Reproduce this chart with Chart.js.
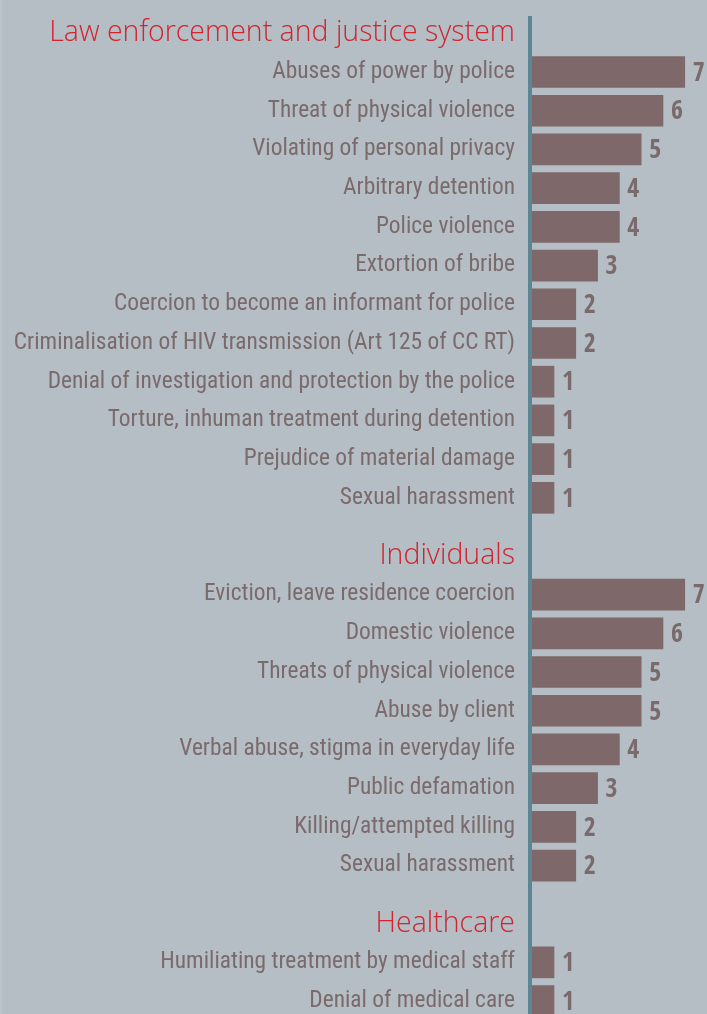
<!DOCTYPE html>
<html>
<head>
<meta charset="utf-8">
<script src="https://cdn.jsdelivr.net/npm/chart.js@4"></script>
<style>
  html, body { margin: 0; padding: 0; background: #b4bec4; }
  #wrap { width: 707px; height: 1014px; position: relative; }
  #edge { position: absolute; left: 0; top: 0; width: 2px; height: 1014px; background: #bcc5ca; }
</style>
</head>
<body>
<div id="wrap"><div id="edge"></div><canvas id="chart"></canvas></div>
<script>
const groupTitles = ['Law enforcement and justice system', 'Individuals', 'Healthcare'];

const lawLabels = [
	'Abuses of power by police',
	'Threat of physical violence',
	'Violating of personal privacy',
	'Arbitrary detention',
	'Police violence',
	'Extortion of bribe',
	'Coercion to become an informant for police',
	'Criminalisation of HIV transmission (Art 125 of CC RT)',
	'Denial of investigation and protection by the police',
	'Torture, inhuman treatment during detention',
	'Prejudice of material damage',
	'Sexual harassment',
];
const lawValues = [7, 6, 5, 4, 4, 3, 2, 2, 1, 1, 1, 1];

const individualLabels = [
	'Eviction, leave residence coercion',
	'Domestic violence',
	'Threats of physical violence',
	'Abuse by client',
	'Verbal abuse, stigma in everyday life',
	'Public defamation',
	'Killing/attempted killing',
	'Sexual harassment',
];
const individualValues = [7, 6, 5, 5, 4, 3, 2, 2];

const healthLabels = ['Humiliating treatment by medical staff', 'Denial of medical care'];
const healthValues = [1, 1];

const groups = [
	{ labels: lawLabels, values: lawValues },
	{ labels: individualLabels, values: individualValues },
	{ labels: healthLabels, values: healthValues },
];

// rows along the y axis: a header row per group, then its items
const rows = [];
let pos = 0;
groups.forEach((g, gi) => {
	if (gi > 0) pos += 1.5;
	rows.push({ pos, text: groupTitles[gi], header: true });
	g.labels.forEach((label, i) => {
		pos += 1;
		rows.push({ pos, text: label, value: g.values[i], header: false });
	});
});
const barRows = rows.filter((r) => !r.header);

const LABEL_FONT = "'Roboto Condensed', 'DejaVu Sans Condensed', sans-serif";

const valueLabels = {
	id: 'valueLabels',
	afterDatasetsDraw(chart) {
		const { ctx } = chart;
		const meta = chart.getDatasetMeta(0);
		ctx.save();
		ctx.font = "bold 26px 'Open Sans Condensed', " + LABEL_FONT;
		ctx.fillStyle = '#7b6a6c';
		ctx.textAlign = 'left';
		ctx.textBaseline = 'middle';
		meta.data.forEach((bar, i) => {
			ctx.fillText(String(barRows[i].value), bar.x + 8, bar.y + 2);
		});
		ctx.restore();
	},
};

new Chart(document.getElementById('chart'), {
	type: 'bar',
	data: {
		datasets: [
			{
				data: barRows.map((r) => ({ x: r.value, y: r.pos })),
				backgroundColor: '#7f6869',
				barThickness: 31,
			},
		],
	},
	options: {
		indexAxis: 'y',
		responsive: true,
		maintainAspectRatio: false,
		animation: false,
		layout: { padding: { top: 18, left: 0, right: 0, bottom: 0 } },
		plugins: { legend: { display: false }, tooltip: { enabled: false } },
		scales: {
			x: {
				type: 'linear',
				display: false,
				min: -0.1,
				max: 8.02,
			},
			y: {
				type: 'linear',
				reverse: true,
				offset: false,
				min: -0.395,
				max: 25.334,
				grid: { display: false, drawTicks: false },
				border: { display: true, color: '#5e8593', width: 4, z: 1 },
				afterBuildTicks: (scale) => {
					scale.ticks = rows.map((r) => ({ value: r.pos }));
				},
				afterFit: (scale) => {
					scale.width = 530;
					scale.paddingTop = 0;
					scale.paddingBottom = 0;
				},
				ticks: {
					autoSkip: false,
					padding: 15,
					callback: (value, index) => rows[index].text,
					color: (c) => (rows[c.index] && rows[c.index].header ? '#d2232f' : '#7b6a6c'),
					font: (c) => (rows[c.index] && rows[c.index].header
						? { family: "'Open Sans', 'Noto Sans', sans-serif", size: 28.5, weight: '300' }
						: { family: LABEL_FONT, size: 23.4 }),
				},
			},
		},
	},
	plugins: [valueLabels],
});
</script>
</body>
</html>
